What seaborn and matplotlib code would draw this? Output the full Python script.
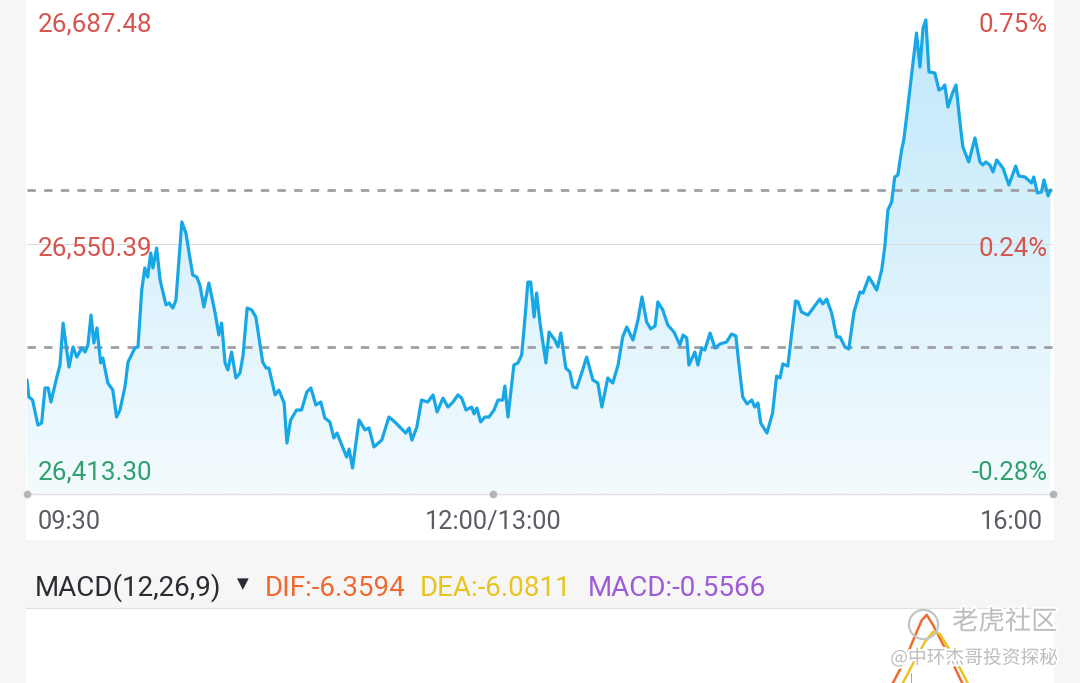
import numpy as np
import matplotlib
matplotlib.use('Agg')
import matplotlib.pyplot as plt
import matplotlib.patheffects as pe
from matplotlib.colors import LinearSegmentedColormap
from matplotlib.lines import Line2D
from matplotlib.patches import Rectangle
import seaborn as sns

# === 分时数据 (开盘后分钟数, 恒指点位) ===
minutes = [
    0.0, 0.6, 1.8, 3.5, 4.7, 5.8, 6.8, 7.7, 9.6, 10.6,
    11.6, 13.5, 14.8, 16.0, 17.6, 18.7, 19.6, 20.6, 21.5, 22.5,
    23.7, 24.4, 26.0, 27.6, 28.8, 29.9, 31.5, 32.5, 34.7, 35.7,
    36.9, 37.9, 38.8, 39.8, 40.5, 41.7, 42.8, 44.7, 45.7, 46.9,
    47.9, 49.8, 51.1, 53.3, 54.6, 55.6, 56.9, 58.5, 60.5, 61.7,
    62.6, 63.7, 64.6, 65.8, 67.2, 68.5, 69.5, 70.8, 72.3, 73.6,
    75.8, 76.9, 77.8, 79.8, 81.0, 82.7, 83.6, 84.8, 86.7, 88.3,
    90.0, 91.3, 92.9, 94.5, 95.8, 97.4, 98.7, 99.7, 102.8, 103.6,
    104.7, 106.8, 108.7, 110.0, 111.6, 114.1, 116.4, 118.3, 121.8, 122.9,
    123.8, 125.4, 126.9, 128.9, 130.6, 131.9, 133.8, 135.4, 137.0, 138.6,
    139.8, 141.2, 143.0, 143.8, 144.7, 145.9, 147.3, 148.6, 150.2, 151.5,
    153.0, 153.7, 154.7, 156.6, 157.9, 159.1, 160.2, 161.1, 162.0, 163.1,
    163.9, 165.0, 166.9, 167.9, 169.8, 170.8, 171.7, 173.3, 174.6, 175.6,
    176.8, 178.4, 180.0, 182.0, 183.6, 184.9, 186.8, 188.4, 190.1, 191.6,
    192.9, 194.9, 196.5, 197.8, 199.3, 200.6, 202.0, 202.9, 204.5, 206.1,
    208.1, 210.0, 211.0, 212.2, 212.9, 214.8, 215.8, 217.0, 218.0, 219.7,
    221.3, 222.9, 225.0, 226.6, 228.0, 229.0, 230.2, 231.6, 233.1, 234.1,
    235.1, 236.0, 238.0, 239.8, 241.1, 242.2, 243.1, 244.7, 247.2, 248.0,
    249.1, 251.2, 253.1, 255.0, 256.0, 257.2, 258.8, 260.4, 261.5, 263.1,
    264.3, 266.0, 267.9, 268.9, 270.8, 273.3, 274.9, 275.9, 276.9, 278.1,
    279.1, 280.1, 281.3, 282.0, 283.3, 284.8, 286.1, 287.2, 288.2, 289.1,
    290.1, 292.0, 293.3, 294.5, 295.2, 296.2, 297.7, 298.8, 300.1, 301.0,
    302.9, 304.9, 306.5, 307.4, 308.4, 309.7, 310.7, 311.9, 313.9, 315.8,
    318.0, 319.0, 321.0, 323.1, 323.8, 325.0, 326.3, 327.1, 328.4, 329.2,
]
prices = [
    26467.2, 26456.8, 26454.9, 26439.6, 26440.8, 26462.3, 26462.3, 26453.7, 26469.0, 26476.3,
    26502.0, 26475.1, 26487.4, 26481.2, 26486.7, 26484.3, 26488.6, 26506.9, 26489.8, 26499.0,
    26477.6, 26480.6, 26465.3, 26461.0, 26444.5, 26448.8, 26462.9, 26478.2, 26486.7, 26487.4,
    26522.2, 26535.7, 26530.2, 26544.9, 26535.7, 26547.9, 26528.4, 26513.1, 26514.3, 26511.2,
    26516.1, 26563.9, 26557.1, 26531.4, 26530.2, 26525.3, 26511.8, 26526.5, 26508.2, 26494.7,
    26502.0, 26477.6, 26473.3, 26484.3, 26468.4, 26471.4, 26482.5, 26511.2, 26510.0, 26505.7,
    26478.2, 26474.5, 26474.5, 26458.0, 26461.0, 26453.1, 26428.6, 26442.7, 26448.8, 26448.8,
    26459.8, 26462.3, 26451.9, 26453.7, 26443.9, 26441.5, 26431.7, 26434.7, 26420.0, 26424.9,
    26413.3, 26442.7, 26436.6, 26437.8, 26426.2, 26430.4, 26444.5, 26441.5, 26434.7, 26437.8,
    26430.4, 26438.4, 26454.9, 26453.7, 26458.0, 26447.6, 26456.1, 26450.6, 26453.7, 26458.0,
    26456.1, 26448.8, 26450.6, 26446.4, 26450.0, 26441.5, 26444.5, 26444.5, 26448.8, 26454.9,
    26454.9, 26463.5, 26444.5, 26476.3, 26477.6, 26482.5, 26505.7, 26527.1, 26527.1, 26505.7,
    26520.4, 26502.0, 26477.6, 26496.5, 26491.6, 26487.4, 26495.9, 26474.5, 26472.1, 26462.9,
    26462.3, 26471.4, 26481.2, 26467.2, 26465.3, 26450.6, 26468.4, 26465.3, 26476.3, 26493.5,
    26499.6, 26491.6, 26503.9, 26518.0, 26502.7, 26498.4, 26500.2, 26514.9, 26510.0, 26500.8,
    26496.5, 26488.6, 26494.7, 26492.9, 26476.3, 26484.3, 26476.3, 26486.7, 26485.5, 26495.9,
    26486.7, 26489.2, 26490.4, 26495.3, 26494.1, 26476.3, 26456.8, 26452.5, 26454.9, 26450.6,
    26453.1, 26440.8, 26434.7, 26447.0, 26469.6, 26468.4, 26477.0, 26475.7, 26515.5, 26514.9,
    26508.8, 26506.9, 26511.8, 26516.7, 26513.7, 26516.7, 26508.2, 26493.5, 26493.5, 26487.4,
    26486.1, 26508.8, 26521.0, 26520.4, 26530.2, 26522.2, 26534.5, 26548.6, 26571.2, 26576.1,
    26591.4, 26592.6, 26607.9, 26614.0, 26634.2, 26658.7, 26679.5, 26658.7, 26682.6, 26687.5,
    26655.7, 26655.0, 26644.6, 26645.9, 26647.7, 26634.2, 26642.8, 26647.7, 26624.4, 26609.8,
    26600.6, 26615.3, 26600.6, 26598.7, 26600.6, 26598.7, 26594.5, 26601.8, 26596.9, 26586.5,
    26598.1, 26592.0, 26591.4, 26587.7, 26591.4, 26581.6, 26582.2, 26589.6, 26579.8, 26583.4,
]

prev_close = 26487.6
last_price = 26583.4
label_prices = [26687.48, 26550.39, 26413.30]
price_labels = ['26,687.48', '26,550.39', '26,413.30']
pct_labels = ['0.75%', '0.24%', '-0.28%']
label_colors = ['#d7544e', '#d7544e', '#30a06e']
tick_minutes = [0, 150, 330]
tick_labels = ['09:30', '12:00/13:00', '16:00']

# === MACD 副图 (只露出顶部一小段) ===
dif_minutes = [274.3, 278.5, 282.4, 285.6, 287.8, 289.4, 291.4, 295.2, 299.1, 302.6]
dif = [35.4, 40.0, 46.2, 52.7, 57.0, 58.4, 55.7, 49.5, 43.0, 36.8]
dea_minutes = [277.5, 281.7, 285.6, 288.8, 291.4, 293.6, 296.8, 300.7, 304.9]
dea = [34.1, 40.0, 46.2, 51.1, 53.8, 53.2, 48.9, 43.0, 36.2]
hist_minutes = [284.4, 285.4]
hist = [43.0, 44.0]
macd_header = [('MACD(12,26,9)', '#2b2b33'), ('DIF:-6.3594', '#ee6a30'),
               ('DEA:-6.0811', '#e8c51e'), ('MACD:-0.5566', '#9e5bd6')]

W, H = 1080, 683
sns.set_theme(style='white')
plt.rcParams['font.family'] = ['Roboto', 'DejaVu Sans']

fig = plt.figure(figsize=(W / 100, H / 100), dpi=100)
fig.patch.set_facecolor('#f6f6f6')


def px_rect(x0, y0, x1, y1, color):
    fig.add_artist(Rectangle((x0 / W, 1 - y1 / H), (x1 - x0) / W, (y1 - y0) / H,
                             transform=fig.transFigure, facecolor=color,
                             edgecolor='none', zorder=0))


# 白色面板
px_rect(26, 0, 1054, 540, 'white')
px_rect(26, 608, 1054, H, 'white')
fig.add_artist(Line2D([26 / W, 1054 / W], [1 - 608 / H] * 2, transform=fig.transFigure,
                      color='#e2e2e2', lw=0.8, zorder=1))

# === 分时主图 ===
ymin, ymax = 26397.4, 26699.7
ax = fig.add_axes([27 / W, 1 - 494 / H, 1026 / W, 494 / H])
ax.set_facecolor('none')

poly = ax.fill_between(minutes, prices, ymin, facecolor='none', edgecolor='none')
cmap = LinearSegmentedColormap.from_list('fill', ['#f4fbfe', '#bee7fa'])
im = ax.imshow(np.linspace(1, 0, 256).reshape(-1, 1), cmap=cmap, aspect='auto',
               extent=[0, 330, ymin, ymax], origin='upper', zorder=1)
im.set_clip_path(poly.get_paths()[0], transform=ax.transData)

ax.axhline(label_prices[1], color='#dcdcdc', lw=0.8, zorder=2)
for ref in [prev_close, last_price]:
    ax.axhline(ref, color='#9e9ea6', lw=2.0, dashes=(3.0, 3.0), zorder=2)

sns.lineplot(x=minutes, y=prices, ax=ax, color='#17a7e6', linewidth=2.3,
             sort=False, estimator=None, zorder=3)

ax.axhline(ymin, color='#e0e0e0', lw=1.0, zorder=2, clip_on=False)
ax.scatter(tick_minutes, [ymin] * 3, s=20, color='#b3b3b8', zorder=4, clip_on=False)

ax.set_xlim(0, 330)
ax.set_ylim(ymin, ymax)
ax.set_xticks([])
ax.set_yticks([])
ax.set_xlabel('')
ax.set_ylabel('')
sns.despine(ax=ax, left=True, bottom=True)

for v, lab, pct, c in zip(label_prices, price_labels, pct_labels, label_colors):
    ax.annotate(lab, xy=(0, v), xytext=(8, -8.5), textcoords='offset points',
                ha='left', va='baseline', fontsize=18.7, color=c, zorder=5)
    ax.annotate(pct, xy=(330, v), xytext=(-3.6, -8.5), textcoords='offset points',
                ha='right', va='baseline', fontsize=18.5, color=c, zorder=5)

offsets = [(7.9, 'left'), (0, 'center'), (-7.2, 'right')]
for t, lab, (dx, ha) in zip(tick_minutes, tick_labels, offsets):
    ax.annotate(lab, xy=(t, ymin), xytext=(dx, -25.2), textcoords='offset points',
                ha=ha, va='baseline', fontsize=18.3, color='#5c5c66',
                annotation_clip=False)

# === MACD 标题行 ===
header_x = [35, 265, 420, 588]
for x, (txt, c) in zip(header_x, macd_header):
    fig.text(x / W, 1 - 596 / H, txt, ha='left', va='baseline', fontsize=20, color=c)
fig.text(243 / W, 1 - 584 / H, '▼', ha='center', va='center', fontsize=11,
         color='#2b2b33', family=['DejaVu Sans'])

# === MACD 副图 ===
ax2 = fig.add_axes([27 / W, 0, 1026 / W, (H - 609) / H])
ax2.set_facecolor('none')
ax2.bar(hist_minutes, hist, width=0.5, color='#e0464a', zorder=1)
sns.lineplot(x=dif_minutes, y=dif, ax=ax2, color='#ee6a30', linewidth=1.8,
             sort=False, estimator=None, zorder=2)
sns.lineplot(x=dea_minutes, y=dea, ax=ax2, color='#e8c51e', linewidth=1.8,
             sort=False, estimator=None, zorder=2)
ax2.set_xlim(0, 330)
ax2.set_ylim(40, 60)
ax2.set_xticks([])
ax2.set_yticks([])
ax2.set_xlabel('')
ax2.set_ylabel('')
sns.despine(ax=ax2, left=True, bottom=True)

# 水印
stroke = [pe.withStroke(linewidth=3, foreground='white')]
fig.add_artist(Line2D([923 / W], [1 - 624 / H], marker='o', markersize=21,
                      markerfacecolor='none', markeredgecolor='#c4c4c4',
                      markeredgewidth=1.6, transform=fig.transFigure, zorder=6))
fig.text(952 / W, 1 - 622 / H, '老虎社区', ha='left', va='center', fontsize=19,
         color='#bdbdbd', family=['Noto Sans CJK SC'], path_effects=stroke, zorder=6)
fig.text(1058 / W, 1 - 658 / H, '@中环杰哥投资探秘', ha='right', va='center',
         fontsize=13.5, color='#bdbdbd', family=['Noto Sans CJK SC', 'DejaVu Sans'],
         path_effects=stroke, zorder=6)

fig.savefig('out.png', dpi=100, facecolor=fig.get_facecolor())
